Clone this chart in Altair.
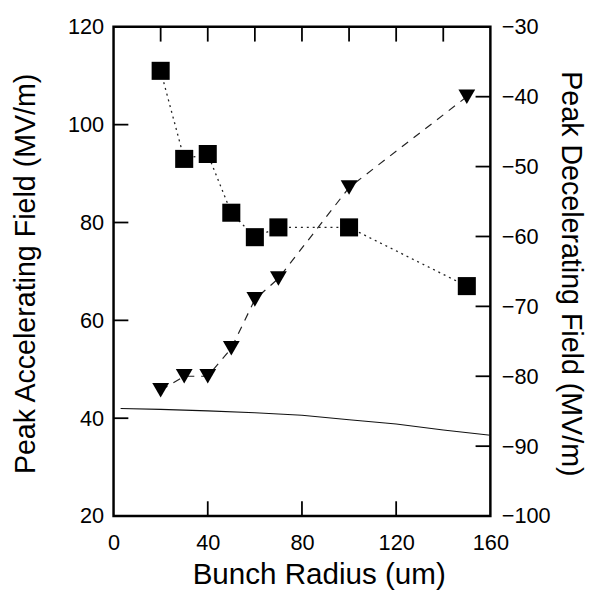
import altair as alt
import pandas as pd

# ---- data ----
radius = [20, 30, 40, 50, 60, 70, 100, 150]
accel = [111, 93, 94, 82, 77, 79, 79, 67]
decel = [-82, -80, -80, -76, -69, -66, -53, -40]
curve_x = [3, 20, 40, 60, 80, 100, 120, 140, 160]
curve_y = [42.0, 41.8, 41.5, 41.1, 40.6, 39.7, 38.8, 37.6, 36.5]

x_label_vals = [0, 40, 80, 120, 160]
x_top_ticks = [20, 40, 60, 80, 100, 120, 140]
x_bottom_ticks = [40, 80, 120]
left_label_vals = [20, 40, 60, 80, 100, 120]
left_inner_ticks = [40, 60, 80, 100]
right_label_vals = [-100, -90, -80, -70, -60, -50, -40, -30]
right_inner_ticks = [-90, -80, -70, -60, -50, -40]

df_acc = pd.DataFrame({"r": radius, "v": accel})
df_dec = pd.DataFrame({"r": radius, "v": decel})
df_curve = pd.DataFrame({"r": curve_x, "v": curve_y})

FONT = "Liberation Sans"
W, H = 382, 496
TICK = 15

xs = alt.Scale(domain=[0, 160], nice=False, zero=False)
ls = alt.Scale(domain=[20, 120], nice=False, zero=False)
rs = alt.Scale(domain=[-100, -30], nice=False, zero=False)

label_common = dict(ticks=False, tickSize=0, domain=False, grid=False,
                    labelFont=FONT, labelFontSize=22, labelColor="black",
                    labelFlush=False, labelOverlap=False,
                    titleFont=FONT, titleFontWeight="normal", titleColor="black",
                    titleBaseline="alphabetic", titleAlign="center")

x_label_axis = alt.Axis(orient="bottom", values=x_label_vals, labelPadding=17,
                        titleFontSize=30, titleAngle=0, titleX=208, titleY=68,
                        **label_common)
left_label_axis = alt.Axis(orient="left", values=left_label_vals, labelPadding=10,
                           titleFontSize=29, titleAngle=-90, titleX=-80, titleY=250,
                           **label_common)
right_label_axis = alt.Axis(orient="right", values=right_label_vals, labelPadding=11,
                            titleFontSize=29, titleAngle=90, titleX=72, titleY=250,
                            **label_common)

# ---- data series ----
sq_line = alt.Chart(df_acc).mark_line(color="#222", strokeWidth=1.3, strokeDash=[2, 4]).encode(
    x=alt.X("r:Q", scale=xs, title="Bunch Radius (um)", axis=x_label_axis),
    y=alt.Y("v:Q", scale=ls, title="Peak Accelerating Field (MV/m)", axis=left_label_axis),
)
sq_pts = alt.Chart(df_acc).mark_point(shape="square", filled=True, size=335,
                                      color="black", opacity=1).encode(
    x=alt.X("r:Q", scale=xs, axis=None),
    y=alt.Y("v:Q", scale=ls, axis=None),
)
tri_line = alt.Chart(df_dec).mark_line(color="#222", strokeWidth=1.2, strokeDash=[8, 7]).encode(
    x=alt.X("r:Q", scale=xs, axis=None),
    y=alt.Y("v:Q", scale=rs, title="Peak Decelerating Field (MV/m)", axis=right_label_axis),
)
tri_pts = alt.Chart(df_dec).mark_point(shape="triangle-down", filled=True, size=290,
                                       color="black", opacity=1).encode(
    x=alt.X("r:Q", scale=xs, axis=None),
    y=alt.Y("v:Q", scale=rs, axis=None),
)
curve = alt.Chart(df_curve).mark_line(color="#111", strokeWidth=1.1).encode(
    x=alt.X("r:Q", scale=xs, axis=None),
    y=alt.Y("v:Q", scale=ls, axis=None),
)

# ---- inward tick marks, placed along the scales, lying just inside the frame ----
hstyle = dict(color="#000000", thickness=1.8, size=TICK, orient="horizontal", opacity=1)
vstyle = dict(color="#000000", thickness=1.8, size=TICK, orient="vertical", opacity=1)
left_ticks = alt.Chart(pd.DataFrame({"t": left_inner_ticks})).mark_tick(**hstyle).encode(
    y=alt.Y("t:Q", scale=ls, axis=None), x=alt.value(TICK / 2))
right_ticks = alt.Chart(pd.DataFrame({"t": right_inner_ticks})).mark_tick(**hstyle).encode(
    y=alt.Y("t:Q", scale=rs, axis=None), x=alt.value(W - TICK / 2))
top_ticks = alt.Chart(pd.DataFrame({"t": x_top_ticks})).mark_tick(**vstyle).encode(
    x=alt.X("t:Q", scale=xs, axis=None), y=alt.value(TICK / 2))
bottom_ticks = alt.Chart(pd.DataFrame({"t": x_bottom_ticks})).mark_tick(**vstyle).encode(
    x=alt.X("t:Q", scale=xs, axis=None), y=alt.value(H - TICK / 2))

chart = (
    alt.layer(sq_line, tri_line, curve, sq_pts, tri_pts,
              left_ticks, right_ticks, top_ticks, bottom_ticks)
    .resolve_scale(y="independent")
    .resolve_axis(x="independent", y="independent")
    .properties(width=W, height=H, autosize="none",
                padding={"left": 107, "top": 15, "right": 101, "bottom": 78},
                background="white")
    .configure_view(stroke="black", strokeWidth=2.5)
)

chart.save("out.html", embed_options={"renderer": "svg", "actions": False})
